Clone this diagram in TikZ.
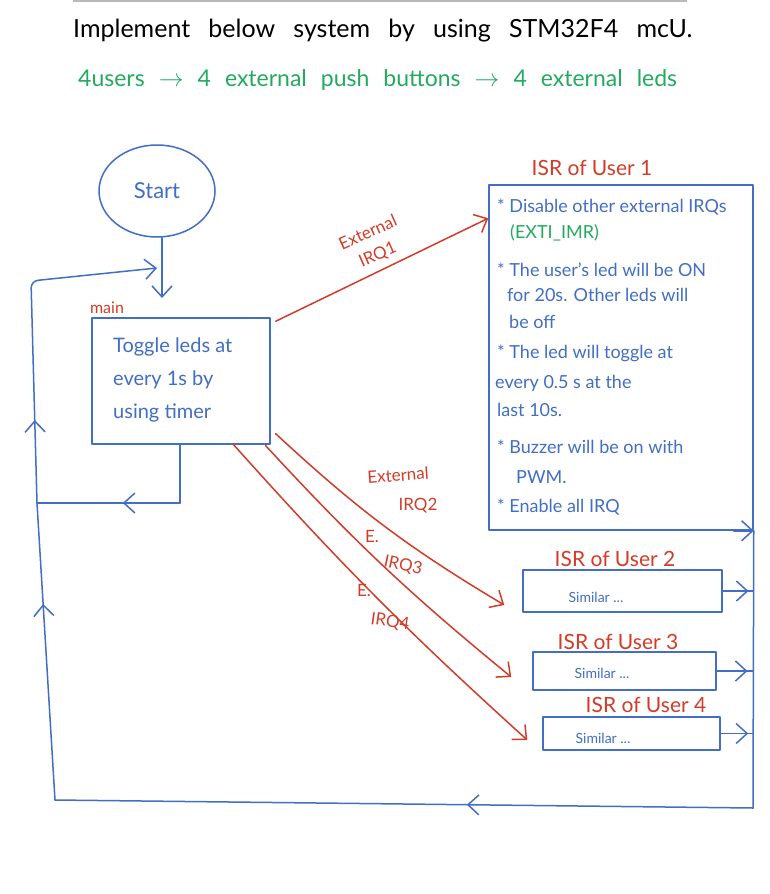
\documentclass[tikz,border=0pt]{standalone}
\usepackage{fontspec}
\setmainfont{Lato}
\usetikzlibrary{arrows.meta,shapes.geometric,decorations.markings,calc}
\definecolor{penblue}{RGB}{66,110,196}
\definecolor{penred}{RGB}{210,60,40}
\definecolor{pengreen}{RGB}{35,170,95}
\definecolor{pengray}{RGB}{185,185,185}
\newcommand{\fsz}[1]{\fontsize{#1}{#1}\selectfont}
\begin{document}
\begin{tikzpicture}[x=1pt,y=-1pt,
  pen/.style={line width=1.5pt, line cap=round, line join=round},
  bl/.style={pen, draw=penblue},
  rd/.style={pen, draw=penred},
  tip/.style={-{Straight Barb[length=11pt,width=20pt]}},
  midarr/.style={postaction={decorate}, decoration={markings, mark=at position #1 with {\arrow{Straight Barb[length=11pt,width=20pt]}}}},
  box/.style={bl, rectangle, inner sep=0pt},
  bt/.style={text=penblue, inner sep=0pt},
  rt/.style={text=penred, inner sep=0pt},
  isrline/.style={bt, anchor=west, font=\fsz{18}},
  ttl/.style={rt, font=\fsz{21}},
  lbl/.style={rt, font=\fsz{17}}
]
\useasboundingbox (0,0) rectangle (769,894);
\fill[white] (0,0) rectangle (769,894);
% top
\draw[pengray, line width=1.2pt] (73,1) -- (687,1);
\node[anchor=base west, inner sep=0pt, font=\fsz{25}] (title) at (73,37)
  {\makebox[619pt][s]{Implement below system by using STM32F4 mcU.}};
\node[anchor=base west, inner sep=0pt, text=pengreen, font=\fsz{23}] (sub) at (78,86)
  {\makebox[599pt][s]{4users $\rightarrow$ 4 external push buttons $\rightarrow$ 4 external leds}};

% start and main
\node[bl, ellipse, minimum width=116pt, minimum height=92pt, text=penblue, font=\fsz{22}] (start) at (157,191) {Start};
\node[box, minimum width=178pt, minimum height=126pt] (main) at (181,381) {};
\node[rt, font=\fsz{16}] (mainlbl) at (107,308) {main};
\node[bt, anchor=west, align=left, font=\fontsize{20}{33}\selectfont] (maintext) at (113,380)
  {Toggle leds at\\every 1s by\\using timer};

% ISR 1
\node[box, minimum width=264pt, minimum height=345pt] (isr1) at (621,357.5) {};
\node[ttl] (t1) at (592,168) {ISR of User 1};
\node[isrline] (a1) at (497,207) {* Disable other external IRQs};
\node[isrline, text=pengreen] (a2) at (510,233) {(EXTI\_IMR)};
\node[isrline] (a3) at (497,270) {* The user's led will be ON};
\node[isrline] (a4) at (507,295) {for 20s. Other leds will};
\node[isrline] (a5) at (509,322) {be off};
\node[isrline] (a6) at (497,353) {* The led will toggle at};
\node[isrline] (a7) at (495,383) {every 0.5 s at the};
\node[isrline] (a8) at (497,410) {last 10s.};
\node[isrline] (a9) at (497,447) {* Buzzer will be on with};
\node[isrline] (a10) at (516,477) {PWM.};
\node[isrline] (a11) at (497,507) {* Enable all IRQ};

% ISR 2-4
\node[box, minimum width=199pt, minimum height=42pt] (isr2) at (622.5,591) {};
\node[ttl] (t2) at (615,559) {ISR of User 2};
\node[bt, font=\fsz{14}] (s2) at (596,597) {Similar ...};
\node[box, minimum width=183pt, minimum height=38pt] (isr3) at (624.5,671) {};
\node[ttl] (t3) at (618,642) {ISR of User 3};
\node[bt, font=\fsz{14}] (s3) at (602,673) {Similar ...};
\node[box, minimum width=177pt, minimum height=33pt] (isr4) at (631.5,733.5) {};
\node[ttl] (t4) at (646,705) {ISR of User 4};
\node[bt, font=\fsz{14}] (s4) at (603,738) {Similar ...};

% coordinates of the loop
\coordinate (rb) at (753,808);
\coordinate (lb) at (55,800);
\coordinate (lm) at (37,503);
\coordinate (mb) at (180,503);
\coordinate (tl) at (31,281);
\coordinate (inn) at (157,268);
\coordinate (st) at (162,298);

% blue connectors
\draw[bl, tip] (start.south -| st) -- (st);
\draw[bl] (main.south -| mb) -- (mb);
\draw[bl, midarr=0.4] (mb) -- (lm);
\draw[bl, tip, rounded corners=7pt, midarr=0.24] (lm) -- (tl) -- (inn);
\draw[bl, midarr=0.66] (lb) -- (lm);
\draw[bl, midarr=0.41] (rb) -- (lb);
\draw[bl] (isr1.south east) -- (rb);
\draw[bl, tip] ([xshift=-20pt]isr1.south east) -- (isr1.south east);
\draw[bl, midarr=0.85] (isr2.east) -- (isr2.east -| rb);
\draw[bl, midarr=0.85] (isr3.east) -- (isr3.east -| rb);
\draw[bl, midarr=0.85] (isr4.east) -- (isr4.east -| rb);

% red connectors
\draw[rd, tip] ($(main.north east)+(5,4)$) -- ($(isr1.north west)+(0,34)$);
\node[lbl, rotate=24, align=center, font=\fontsize{17}{24}\selectfont] (l1) at (373,244) {External\\IRQ1};
\draw[rd, tip] ($(main.south east)+(5,-11)$) to[bend right=6] ($(isr2.west)+(-18,14)$);
\draw[rd, tip] ($(main.south east)+(-5,1)$) to[bend right=4] ($(isr3.west)+(-21,6)$);
\draw[rd, tip] ($(main.south east)+(-38,-1)$) to[bend right=3] ($(isr4.west)+(-15,6.5)$);
\node[lbl, rotate=4] (l2a) at (398,475) {External};
\node[lbl] (l2b) at (418,506) {IRQ2};
\node[lbl] (l3a) at (372,536) {E.};
\node[lbl, rotate=-12] (l3b) at (403,566) {IRQ3};
\node[lbl] (l4a) at (364,590) {E.};
\node[lbl, rotate=-8] (l4b) at (390,622) {IRQ4};
\end{tikzpicture}
\end{document}
